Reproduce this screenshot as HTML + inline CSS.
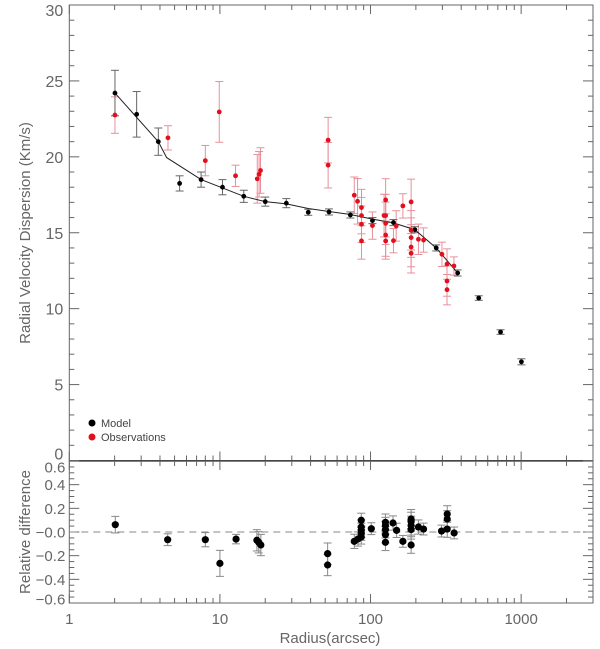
<!DOCTYPE html>
<html><head><meta charset="utf-8"><style>
html,body{margin:0;padding:0;background:#fff;}
svg{display:block;font-family:"Liberation Sans",sans-serif;}
</style></head><body>
<svg id="chart" width="600" height="649" viewBox="0 0 600 649" xmlns="http://www.w3.org/2000/svg">
<g id="g"></g>
</svg>
<script>
// Model (black) points
const modelR = [2.01, 2.8, 3.9, 5.4, 7.5, 10.4, 14.4, 20, 27.6, 38.6, 53, 73.5, 103, 142, 197, 273, 379, 523, 730, 1004];
const modelV = [24.2, 22.8, 21.0, 18.25, 18.5, 18.0, 17.4, 17.05, 16.95, 16.35, 16.37, 16.17, 15.8, 15.67, 15.2, 14.0, 12.35, 10.7, 8.46, 6.5];
const modelE = [1.5, 1.5, 0.9, 0.5, 0.5, 0.5, 0.4, 0.3, 0.3, 0.2, 0.2, 0.2, 0.2, 0.2, 0.2, 0.2, 0.2, 0.15, 0.15, 0.2];
// Model curve
const lineR = [2.01, 2.8, 3.9, 4.43, 7.5, 10.4, 14.4, 20, 27.6, 38.6, 53, 73.5, 103, 142, 197, 273, 379];
const lineV = [24.2, 22.6, 21.0, 19.95, 18.5, 17.95, 17.4, 17.05, 16.9, 16.6, 16.4, 16.2, 15.9, 15.65, 15.2, 14.0, 12.35];
// Observations (red)
const obsR = [2.01, 4.52, 8.0, 9.9, 12.7, 17.7, 18.2, 18.6, 52.3, 52.3, 78, 82, 87.1, 87.1, 87.1, 87.1, 103, 126, 126, 123, 126, 126, 126, 142, 148, 164, 186, 186, 186, 186, 186, 208, 225, 298, 322, 322, 322, 358];
const obsV = [22.75, 21.25, 19.75, 22.96, 18.75, 18.55, 18.85, 19.1, 21.1, 19.45, 17.47, 17.07, 16.66, 16.13, 15.56, 14.46, 15.47, 17.16, 16.13, 16.13, 15.62, 14.85, 14.46, 14.48, 15.45, 16.77, 17.03, 15.16, 14.68, 14.06, 13.65, 14.57, 14.52, 13.58, 12.94, 11.82, 11.25, 12.81];
const obsE = [1.2, 0.8, 1.0, 2.0, 0.7, 1.6, 1.5, 1.5, 1.5, 1.5, 1.2, 1.5, 1.2, 1.2, 1.2, 1.2, 0.9, 1.4, 1.4, 1.4, 1.4, 1.4, 1.2, 0.8, 1.0, 0.8, 1.5, 1.3, 1.3, 1.3, 1.3, 1.0, 0.8, 0.8, 1.0, 1.0, 1.0, 0.6];
// Residuals (bottom panel)
const resR = [2.02, 4.5, 8.0, 10, 12.8, 17.6, 18.1, 18.7, 51.9, 51.9, 78, 82.6, 86.8, 86.8, 86.8, 86.8, 86.8, 101.2, 125.6, 125.6, 125.6, 125.6, 125.6, 141, 149, 164, 186, 186, 186, 186, 186, 208, 225, 296, 323, 323, 323, 359];
const resV = [0.062, -0.065, -0.065, -0.265, -0.06, -0.07, -0.087, -0.11, -0.183, -0.279, -0.079, -0.059, -0.042, 0.099, 0.042, 0.014, -0.01, 0.028, 0.082, 0.054, 0.02, -0.023, -0.087, 0.076, 0.014, -0.079, 0.11, 0.087, 0.054, 0.02, -0.11, 0.042, 0.025, 0.008, 0.152, 0.11, 0.025, -0.008];
const resE = [0.07, 0.05, 0.06, 0.11, 0.04, 0.09, 0.09, 0.09, 0.09, 0.09, 0.06, 0.06, 0.06, 0.06, 0.06, 0.06, 0.06, 0.05, 0.07, 0.07, 0.07, 0.07, 0.07, 0.06, 0.06, 0.05, 0.08, 0.08, 0.08, 0.08, 0.07, 0.06, 0.05, 0.05, 0.07, 0.07, 0.07, 0.05];
const xTickVals = [1, 10, 100, 1000];
const xTickLabels = ["1", "10", "100", "1000"];
const yTopTicks = [0, 5, 10, 15, 20, 25, 30];
const yBotTicks = [-0.6, -0.4, -0.2, 0.0, 0.2, 0.4, 0.6];
const yBotLabels = ["\u22120.6", "\u22120.4", "\u22120.2", "\u22120.0", "0.2", "0.4", "0.6"];

const L = 69.3, R = 593, TT = 5, TB = 460.5, BT = 461, BB = 603;
const lx0 = 0, lx1 = Math.log10(3000);
const X = r => L + (Math.log10(r) - lx0) / (lx1 - lx0) * (R - L);
const YT = v => TB - v / 30 * (TB - TT);
const YB = v => BB - (v + 0.6) / 1.2 * (BB - BT);
const NS = "http://www.w3.org/2000/svg";
const g = document.getElementById('g');
function mk(tag, attrs, parent) {
  const el = document.createElementNS(NS, tag);
  for (const k in attrs) el.setAttribute(k, attrs[k]);
  (parent || g).appendChild(el);
  return el;
}
const AX = '#666';
const f1 = mk('rect', {x: L, y: TT, width: R - L, height: TB - TT, fill: 'none', stroke: AX, 'stroke-width': 1});


const f2 = mk('rect', {x: L, y: BT, width: R - L, height: BB - BT, fill: 'none', stroke: AX, 'stroke-width': 1});


const sep = mk('line', {x1: L, x2: R, y1: 461, y2: 461, stroke: '#333', 'stroke-width': 1.2});



for (let d = 0; d < 4; d++) {
  for (let m = 1; m <= 9; m++) {
    const v = m * Math.pow(10, d);
    if (v > 3000) break;
    const x = X(v), len = m === 1 ? 9 : 5;
    [[TT, 1], [TB, -1], [BT, 1], [BB, -1]].forEach(([y, s]) => {
      const t = mk('line', {x1: x, x2: x, y1: y, y2: y + s * len, stroke: AX, 'stroke-width': 1});
      
      
    });
  }
}
xTickVals.forEach((v, i) => {
  const t = mk('text', {x: X(v), y: 624, 'text-anchor': 'middle', 'font-size': 15, fill: AX});
  t.textContent = xTickLabels[i];
  
  
});
for (let v = 0; v <= 30; v++) {
  const y = YT(v), len = v % 5 === 0 ? 10 : 5;
  [[L, 1], [R, -1]].forEach(([x, s]) => {
    const t = mk('line', {x1: x, x2: x + s * len, y1: y, y2: y, stroke: AX, 'stroke-width': 1});
    
    
  });
}
yTopTicks.forEach(v => {
  const yy = v === 0 ? YT(0) - 1 : (v === 30 ? YT(30) + 11 : YT(v) + 6);
  const t = mk('text', {x: L - 6, y: yy, 'text-anchor': 'end', 'font-size': 16, fill: AX});
  t.textContent = String(v);
  
  
});
for (let i = 0; i <= 24; i++) {
  const v = -0.6 + i * 0.05, y = YB(v), len = i % 4 === 0 ? 10 : 5;
  [[L, 1], [R, -1]].forEach(([x, s]) => {
    const t = mk('line', {x1: x, x2: x + s * len, y1: y, y2: y, stroke: AX, 'stroke-width': 1});
    
    
  });
}
yBotTicks.forEach((v, i) => {
  const cy = Math.min(599, Math.max(467, YB(v)));
  const t = mk('text', {x: L - 4, y: cy + 5.5, 'text-anchor': 'end', 'font-size': 15, fill: AX});
  t.textContent = yBotLabels[i];
  
  
});
const yt = mk('text', {x: 0, y: 0, transform: 'translate(30,233) rotate(-90)', 'text-anchor': 'middle', 'font-size': 15, fill: AX});
yt.textContent = 'Radial Velocity Dispersion (Km/s)';


const yb = mk('text', {x: 0, y: 0, transform: 'translate(30,532) rotate(-90)', 'text-anchor': 'middle', 'font-size': 15, fill: AX});
yb.textContent = 'Relative difference';


const xt = mk('text', {x: 330, y: 643, 'text-anchor': 'middle', 'font-size': 15, fill: AX});
xt.textContent = 'Radius(arcsec)';



const z = mk('line', {x1: L, x2: R, y1: YB(0), y2: YB(0), stroke: '#888', 'stroke-dasharray': '7,5', 'stroke-width': 1});



function errbar(x, y1, y2, col, name) {
  const v = mk('line', {x1: x, x2: x, y1: y1, y2: y2, stroke: col, 'stroke-width': 1});
  
  
  [y1, y2].forEach(y => {
    const c = mk('line', {x1: x - 4, x2: x + 4, y1: y, y2: y, stroke: col, 'stroke-width': 1});
    
    
  });
}
obsR.forEach((r, i) => errbar(X(r), YT(obsV[i] + obsE[i]), YT(obsV[i] - obsE[i]), '#e8909a', 'observation-error-bar'));
modelR.forEach((r, i) => errbar(X(r), YT(modelV[i] + modelE[i]), YT(modelV[i] - modelE[i]), '#666', 'model-error-bar'));
const pl = mk('polyline', {points: lineR.map((r, i) => X(r) + ',' + YT(lineV[i])).join(' '), fill: 'none', stroke: '#222', 'stroke-width': 1});


modelR.forEach((r, i) => {
  const c = mk('circle', {cx: X(r), cy: YT(modelV[i]), r: 2.4, fill: '#000'});
  
  
});
obsR.forEach((r, i) => {
  const c = mk('circle', {cx: X(r), cy: YT(obsV[i]), r: 2.4, fill: '#e0101e'});
  
  
});
resR.forEach((r, i) => errbar(X(r), YB(resV[i] + resE[i]), YB(resV[i] - resE[i]), '#888', 'residual-error-bar'));
resR.forEach((r, i) => {
  const c = mk('circle', {cx: X(r), cy: YB(resV[i]), r: 3.6, fill: '#000'});
  
  
});
[['Model', '#000', 423], ['Observations', '#e0101e', 437]].forEach(([t, col, y]) => {
  const c = mk('circle', {cx: 92, cy: y, r: 3.5, fill: col});
  
  
  const tx = mk('text', {x: 101, y: y + 4, 'font-size': 11, fill: '#444'});
  tx.textContent = t;
  
  
});
</script>
</body></html>
